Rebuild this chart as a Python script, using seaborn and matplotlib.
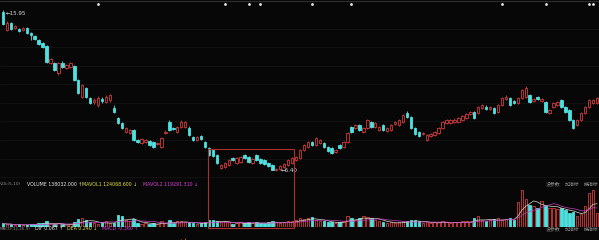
import numpy as np
import pandas as pd
import matplotlib
matplotlib.use("Agg")
import matplotlib.pyplot as plt
import matplotlib.transforms as mtransforms
from matplotlib.patches import Rectangle
import seaborn as sns

# ---------------- data ----------------
opens = [15.83, 14.76, 15.18, 14.88, 14.82, 14.76, 14.88, 14.58, 14.41, 14.17,
         13.99, 13.81, 12.80, 12.80, 12.21, 12.80, 12.51, 12.57, 12.63, 11.80,
         10.79, 11.32, 10.73, 10.49, 10.31, 10.67, 10.49, 10.61, 10.14, 9.54,
         9.25, 8.71, 8.65, 8.83, 8.24, 8.06, 8.12, 8.18, 8.12, 8.00,
         7.82, 8.65, 9.31, 8.95, 8.71, 9.01, 9.01, 8.95, 8.42, 8.24,
         8.48, 8.12, 7.76, 7.64, 7.35, 6.58, 6.64, 6.76, 7.17, 6.87,
         6.93, 7.35, 7.23, 6.87, 7.35, 7.11, 7.05, 6.87, 6.76, 6.46,
         6.52, 6.64, 6.76, 6.87, 7.05, 7.17, 7.64, 7.82, 8.12, 7.94,
         8.06, 8.06, 7.82, 7.76, 7.53, 7.94, 7.82, 8.12, 9.01, 8.95,
         9.13, 8.71, 8.95, 9.31, 9.01, 8.83, 9.13, 8.77, 8.83, 9.19,
         9.13, 9.31, 9.84, 9.60, 8.95, 8.71, 8.59, 8.24, 8.48, 8.53,
         8.65, 8.95, 9.25, 9.25, 9.31, 9.31, 9.42, 9.54, 9.78, 9.90,
         9.84, 10.14, 10.19, 10.08, 10.14, 9.90, 10.31, 10.67, 10.73, 10.55,
         10.43, 10.73, 10.79, 10.91, 10.55, 10.79, 10.55, 10.49, 9.84, 10.19,
         10.31, 10.61, 10.19, 10.02, 9.42, 9.13, 9.42, 9.84, 10.19, 10.43,
         10.43]
closes = [15.12, 15.18, 14.82, 15.00, 14.70, 14.88, 14.58, 14.46, 14.23, 13.93,
          13.75, 12.86, 13.04, 12.39, 12.80, 12.57, 12.69, 12.80, 11.80, 11.02,
          11.50, 10.79, 10.43, 10.61, 10.73, 10.55, 10.79, 10.91, 9.90, 9.25,
          8.95, 8.95, 8.83, 8.24, 8.12, 8.30, 8.24, 7.94, 7.82, 8.06,
          8.36, 8.71, 8.83, 8.89, 9.01, 9.31, 9.31, 8.53, 8.24, 8.42,
          8.30, 7.82, 7.35, 7.29, 6.87, 6.76, 6.87, 7.05, 7.05, 7.17,
          7.23, 7.17, 6.93, 7.11, 7.05, 6.87, 6.81, 6.70, 6.46, 6.52,
          6.70, 6.81, 7.05, 7.17, 7.23, 7.64, 7.94, 8.12, 7.94, 8.36,
          8.24, 7.82, 7.59, 7.47, 7.64, 7.76, 8.12, 8.65, 8.71, 9.13,
          8.83, 8.95, 9.42, 9.01, 9.25, 9.01, 8.83, 8.95, 9.13, 9.31,
          9.42, 9.72, 9.60, 8.95, 8.59, 8.48, 8.65, 8.53, 8.59, 8.71,
          8.95, 9.31, 9.42, 9.42, 9.42, 9.54, 9.66, 9.78, 9.90, 9.54,
          10.19, 10.31, 10.08, 10.19, 9.84, 10.31, 10.73, 10.79, 10.31, 10.43,
          10.73, 11.20, 11.32, 10.49, 10.67, 10.67, 10.67, 9.90, 10.02, 10.43,
          10.49, 10.19, 9.90, 9.42, 8.95, 9.42, 9.84, 10.19, 10.61, 10.61,
          10.73]
highs = [15.95, 15.29, 15.24, 15.06, 14.88, 14.94, 14.94, 14.64, 14.46, 14.23,
         14.05, 13.87, 13.10, 12.86, 12.86, 12.92, 12.75, 12.86, 12.69, 11.86,
         11.56, 11.38, 10.79, 10.73, 10.85, 10.79, 10.91, 10.97, 10.31, 9.60,
         9.31, 9.01, 8.89, 8.89, 8.30, 8.36, 8.30, 8.24, 8.18, 8.12,
         8.42, 8.83, 9.42, 9.01, 9.07, 9.42, 9.36, 9.07, 8.48, 8.48,
         8.53, 8.18, 7.82, 7.70, 7.41, 6.81, 6.93, 7.11, 7.23, 7.23,
         7.29, 7.41, 7.29, 7.17, 7.41, 7.17, 7.11, 6.93, 6.81, 6.58,
         6.76, 6.87, 7.11, 7.23, 7.29, 7.70, 8.00, 8.18, 8.18, 8.42,
         8.30, 8.12, 7.88, 7.82, 7.70, 8.00, 8.18, 8.71, 9.07, 9.19,
         9.19, 9.01, 9.48, 9.36, 9.31, 9.07, 9.19, 9.01, 9.19, 9.36,
         9.48, 9.78, 9.96, 9.66, 9.01, 8.77, 8.71, 8.59, 8.65, 8.77,
         9.01, 9.36, 9.48, 9.48, 9.54, 9.60, 9.72, 9.84, 9.96, 9.96,
         10.25, 10.37, 10.31, 10.25, 10.19, 10.37, 10.79, 10.91, 10.79, 10.61,
         10.79, 11.26, 11.44, 10.97, 10.73, 10.85, 10.73, 10.55, 10.08, 10.49,
         10.55, 10.67, 10.25, 10.08, 9.48, 9.48, 9.90, 10.25, 10.67, 10.67,
         10.79]
lows = [15.06, 14.70, 14.76, 14.82, 14.64, 14.70, 14.52, 14.17, 14.17, 13.87,
        13.69, 12.80, 12.75, 12.33, 12.09, 12.51, 12.45, 12.51, 11.74, 10.97,
        10.73, 10.73, 10.37, 10.37, 10.19, 10.43, 10.43, 10.49, 9.84, 9.19,
        8.89, 8.65, 8.59, 8.18, 8.06, 8.00, 8.06, 7.88, 7.76, 7.94,
        7.76, 8.59, 8.77, 8.83, 8.65, 8.95, 8.95, 8.48, 8.18, 8.18,
        8.24, 7.76, 7.29, 7.23, 6.81, 6.52, 6.58, 6.70, 6.99, 6.81,
        6.87, 7.11, 6.87, 6.81, 6.99, 6.81, 6.76, 6.64, 6.44, 6.40,
        6.46, 6.58, 6.70, 6.81, 6.99, 7.11, 7.59, 7.76, 7.88, 7.88,
        8.00, 7.76, 7.53, 7.41, 7.47, 7.70, 7.76, 8.06, 8.65, 8.89,
        8.77, 8.65, 8.89, 8.95, 8.95, 8.77, 8.77, 8.71, 8.77, 9.13,
        9.07, 9.25, 9.54, 8.89, 8.53, 8.42, 8.53, 8.18, 8.42, 8.48,
        8.59, 8.89, 9.19, 9.19, 9.25, 9.25, 9.36, 9.48, 9.72, 9.48,
        9.78, 10.08, 10.02, 10.02, 9.78, 9.84, 10.25, 10.61, 10.25, 10.37,
        10.37, 10.67, 10.73, 10.43, 10.49, 10.61, 10.49, 9.84, 9.78, 10.14,
        10.25, 10.14, 9.84, 9.36, 8.89, 9.07, 9.36, 9.78, 10.14, 10.37,
        10.37]
volumes = [31800, 21200, 21500, 10600, 21200, 10800, 21000, 21600, 21200, 31800,
           32000, 53000, 21200, 21400, 31800, 21200, 10600, 21200, 42400, 74200,
           84800, 63600, 42400, 31800, 21200, 42400, 53000, 31800, 31800, 116600,
           106000, 63600, 53000, 74200, 31800, 21200, 31800, 21200, 31800, 21200,
           53000, 31800, 63600, 31800, 53000, 53000, 42400, 42400, 31800, 21200,
           31800, 42400, 63600, 63600, 53000, 42400, 53000, 42400, 21200, 31800,
           42400, 31800, 42400, 31800, 42400, 31800, 31800, 42400, 53000, 42400,
           31800, 42400, 53000, 53000, 63600, 84800, 74200, 84800, 95400, 63600,
           53000, 53000, 42400, 42400, 31800, 42400, 53000, 106000, 84800, 63600,
           84800, 106000, 95400, 84800, 63600, 53000, 42400, 31800, 42400, 31800,
           42400, 53000, 53000, 63600, 63600, 53000, 31800, 42400, 31800, 42400,
           42400, 53000, 42400, 31800, 42400, 42400, 53000, 53000, 42400, 84800,
           106000, 63600, 53000, 63600, 74200, 84800, 63600, 74200, 84800, 63600,
           254400, 381600, 286200, 222600, 212000, 190800, 265000, 222600, 190800, 190800,
           180200, 190800, 169600, 137800, 148400, 106000, 127200, 212000, 349800, 381600,
           138032]
event_days = [24, 56, 62, 65, 78, 88, 126, 137, 148, 149]
selection = (52, 73)          # candles inside the red selection box

vol_label = [("VOL(5,10)", "#8c8c8c"), ("VOLUME 138032.000 \u2191", "#e6e6e6"),
             ("MAVOL1 124068.600 \u2193", "#e6e040"), ("MAVOL2 119291.310 \u2193", "#d444d4")]
macd_label = [("MACD(12,26,9)", "#8c8c8c"), ("DIF 0.067 \u2191", "#e6e6e6"),
              ("DEA 0.240 \u2193", "#e6e040"), ("MACD -0.360 \u2191", "#d444d4")]
panel_buttons = ["设参数", "加指标", "换指标"]

# ---------------- style ----------------
BG = "#070707"
CYAN = "#4fe0e0"
RED = "#d83a3a"
sns.set_theme(style="dark", rc={"axes.facecolor": BG, "figure.facecolor": BG,
                                "savefig.facecolor": BG})
plt.rcParams["font.family"] = ["DejaVu Sans", "Noto Sans CJK SC"]

W, H = 599, 240
fig = plt.figure(figsize=(W / 100, H / 100), dpi=100)
ax = fig.add_axes([0, 1 - 181 / H, 1, 181 / H])
axv = fig.add_axes([0, 1 - 226.5 / H, 1, 44.5 / H])
axm = fig.add_axes([0, -0.35, 1, 0.395])
for a in (ax, axv, axm):
    a.set_facecolor("none")
    for s in a.spines.values():
        s.set_visible(False)
    a.set_xticks([])
    a.tick_params(length=0, labelleft=False, labelbottom=False)

o = np.array(opens); c = np.array(closes)
hi = np.array(highs); lo = np.array(lows)
v = np.array(volumes, dtype=float)
n = len(o)
x = np.arange(n)
up = c >= o
edge = [RED if u else CYAN for u in up]
face = [BG if u else CYAN for u in up]

xlim = (-0.76, 150.5)

# ---------------- main candles ----------------
ax.set_yticks(np.arange(6.04, 15.0, 1.10))
ax.grid(axis="y", color="#131313", lw=0.6)
ax.grid(axis="x", visible=False)
ax.vlines(x, lo, hi, colors=edge, lw=0.6, zorder=2)
body_b = np.minimum(o, c)
body_h = np.maximum(np.abs(c - o), 0.035)
ax.bar(x, body_h, bottom=body_b, width=0.62, color=face, edgecolor=edge,
       linewidth=0.6, zorder=3)
ax.set_xlim(*xlim)
ax.set_ylim(5.81, 16.54)

blend = mtransforms.blended_transform_factory(ax.transData, ax.transAxes)
ax.plot([0, 1], [0.992, 0.992], transform=ax.transAxes, color="#2e2e2e", lw=0.8)
ax.scatter(event_days, [0.978] * len(event_days), transform=blend, s=4,
           color="#e8e8e8", zorder=5, clip_on=False, linewidths=0)

imax = int(np.argmax(hi)); imin = int(np.argmin(lo))
ax.annotate("\u2190" + f"{hi[imax]:.2f}", xy=(imax, hi[imax]), xytext=(2, -2.5),
            textcoords="offset points", color="#dddddd", fontsize=4,
            va="center", ha="left")
ax.annotate("\u2190" + f"{lo[imin]:.2f}", xy=(imin, lo[imin]), xytext=(3, 0.5),
            textcoords="offset points", color="#dddddd", fontsize=4,
            va="center", ha="left")

# ---------------- volume ----------------
axv.bar(x, v, width=0.62, color=face, edgecolor=edge, linewidth=0.6)
ma5 = pd.Series(v).rolling(5, min_periods=1).mean()
ma10 = pd.Series(v).rolling(10, min_periods=1).mean()
sns.lineplot(x=x, y=ma5.values, ax=axv, color="#d8d8c8", lw=0.5)
sns.lineplot(x=x, y=ma10.values, ax=axv, color="#c040c0", lw=0.5)
axv.set_xlim(*xlim)
axv.set_ylim(0, v.max() * 1.236)
axv.grid(False)

# ---------------- MACD (cropped at bottom) ----------------
cs = pd.Series(c)
dif = cs.ewm(span=12, adjust=False).mean() - cs.ewm(span=26, adjust=False).mean()
dea = dif.ewm(span=9, adjust=False).mean()
macd = 2 * (dif - dea)
axm.vlines(x, 0, macd.values, colors=[RED if m > 0 else CYAN for m in macd], lw=0.7)
sns.lineplot(x=x, y=dif.values, ax=axm, color="#d8d8d8", lw=0.5)
sns.lineplot(x=x, y=dea.values, ax=axm, color="#d8d040", lw=0.5)
lo_m = min(dif.min(), macd.min()); hi_m = max(dif.max(), macd.max())
axm.set_ylim(lo_m, hi_m + 0.10 * (hi_m - lo_m))
axm.set_xlim(*xlim)
axm.grid(False)

# ---------------- selection box ----------------
fig.canvas.draw()
inv = fig.transFigure.inverted()
top_f = inv.transform(ax.transData.transform((0, max(hi[selection[0]:selection[1] + 1]) - 0.1)))[1]
bot_f = axv.get_position().y0 - 1.5 / H
bl = mtransforms.blended_transform_factory(ax.transData, fig.transFigure)
fig.add_artist(Rectangle((selection[0] - 0.3, bot_f), selection[1] - selection[0] + 0.9,
                         top_f - bot_f, transform=bl, fill=False,
                         edgecolor="#a83030", lw=0.8))

# ---------------- panel labels ----------------
def row(items, xs, ypx, sizes):
    for (t, col), xp, fs in zip(items, xs, sizes):
        fig.text(xp / W, 1 - ypx / H, t, color=col, fontsize=fs, va="center", ha="left")

row(vol_label, [0, 27, 82, 143], 184, [3.1, 3.4, 3.4, 3.4])
row(macd_label, [0, 35, 67, 102], 229, [3.0, 3.4, 3.4, 3.4])
for ypx in (184, 229):
    for t, xp in zip(panel_buttons, [546, 565, 584]):
        fig.text(xp / W, 1 - ypx / H, t, color="#8a8a8a", fontsize=3.5, va="center",
                 ha="left", family=["Noto Sans CJK SC", "DejaVu Sans"])

fig.savefig("out.png", dpi=100, facecolor=BG)
